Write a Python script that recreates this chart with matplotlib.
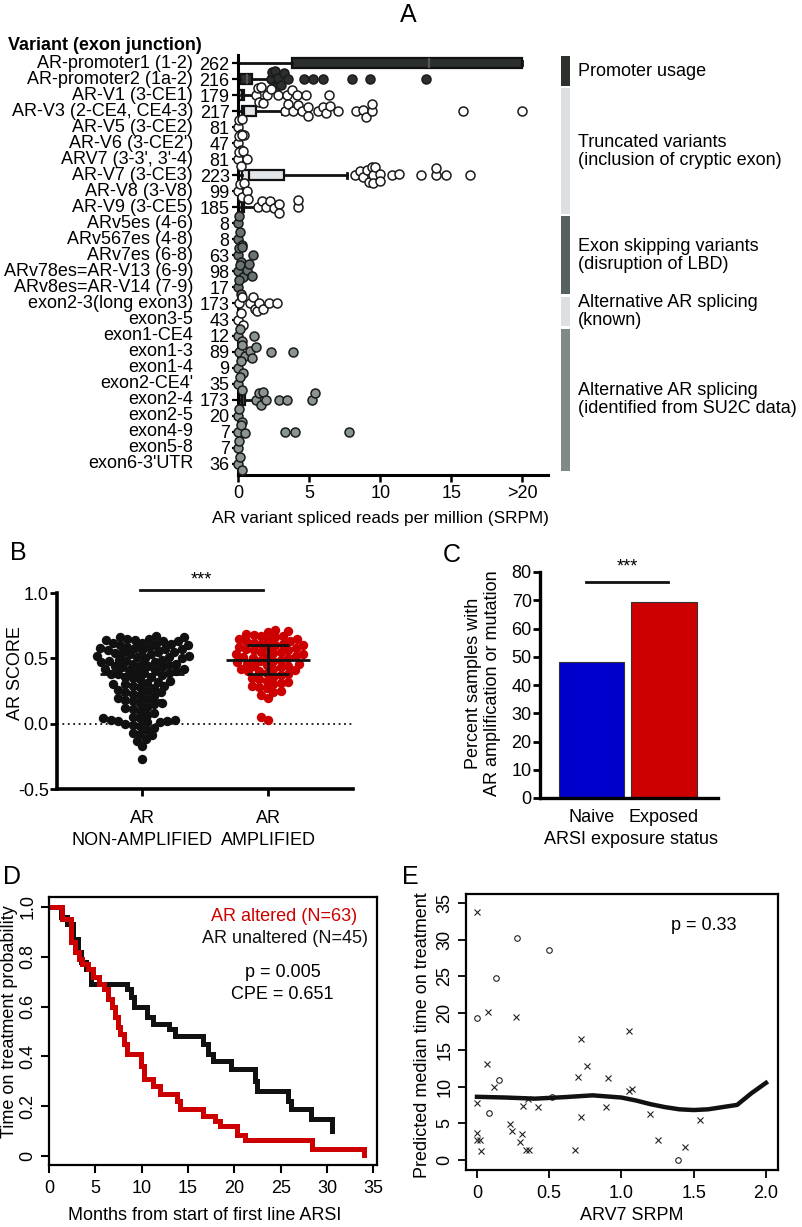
import numpy as np
import matplotlib
matplotlib.use('Agg')
import matplotlib.pyplot as plt
from matplotlib.transforms import blended_transform_factory as blend

plt.rcParams['font.family'] = ['Liberation Sans', 'DejaVu Sans']
plt.rcParams['font.size'] = 13

# ---------------- data: panel A ----------------
variants = ["AR-promoter1 (1-2)", "AR-promoter2 (1a-2)", "AR-V1 (3-CE1)", "AR-V3 (2-CE4, CE4-3)",
            "AR-V5 (3-CE2)", "AR-V6 (3-CE2')", "ARV7 (3-3', 3'-4)", "AR-V7 (3-CE3)",
            "AR-V8 (3-V8)", "AR-V9 (3-CE5)", "ARv5es (4-6)", "ARv567es (4-8)", "ARv7es (6-8)",
            "ARv78es=AR-V13 (6-9)", "ARv8es=AR-V14 (7-9)", "exon2-3(long exon3)", "exon3-5",
            "exon1-CE4", "exon1-3", "exon1-4", "exon2-CE4'", "exon2-4", "exon2-5", "exon4-9",
            "exon5-8", "exon6-3'UTR"]
counts = [262, 216, 179, 217, 81, 47, 81, 223, 99, 185, 8, 8, 63, 98, 17, 173, 43, 12, 89, 9,
          35, 173, 20, 7, 7, 36]
row_group = [0, 0, 1, 1, 1, 1, 1, 1, 1, 1, 2, 2, 2, 2, 2, 3, 3, 4, 4, 4, 4, 4, 4, 4, 4, 4]

srpm_points = [
    [],
    [2.3, 2.4, 2.5, 2.6, 2.7, 2.8, 3.0, 3.2, 3.5, 4.65, 5.3, 6.0, 8.05, 9.25, 13.2],
    [1.3, 1.4, 1.5, 1.6, 1.75, 2.05, 2.3, 2.8, 3.45, 3.8, 4.15, 4.8, 6.4],
    [3.3, 3.5, 3.9, 4.2, 4.5, 4.9, 4.9, 5.6, 6.0, 6.2, 6.5, 7.0, 8.3, 8.8, 9.0, 9.4, 9.4, 15.8, 20.0],
    [0.0, 0.1, 0.2, 0.3, 0.45],
    [0.0, 0.1, 0.2, 0.3],
    [0.0, 0.1, 0.2, 0.35, 0.6],
    [8.2, 8.6, 8.8, 9.1, 9.2, 9.4, 9.5, 9.5, 9.6, 10.0, 10.0, 10.8, 11.3, 12.9, 13.9, 13.9, 14.6, 16.3],
    [0.0, 0.15, 0.3, 0.45, 0.6, 0.7],
    [1.4, 1.7, 2.0, 2.25, 2.5, 2.9, 2.9, 4.2, 4.2],
    [0.0, 0.05],
    [0.0, 0.15, 0.3],
    [0.0, 0.1, 0.2, 0.3, 1.05],
    [0.0, 0.15, 0.35, 0.6, 0.8, 0.95],
    [0.0, 0.1, 0.2],
    [0.1, 0.3, 0.85, 1.05, 1.2, 1.35, 1.5, 1.75, 2.2, 2.75],
    [0.0, 0.2, 0.35],
    [0.0, 0.15, 0.3, 1.1],
    [0.1, 0.3, 0.5, 0.85, 1.0, 1.3, 2.3, 3.9],
    [0.0, 0.2, 0.35],
    [0.0, 0.15, 0.25],
    [1.3, 1.45, 1.6, 1.75, 2.0, 2.9, 3.45, 5.2, 5.4],
    [0.0, 0.1, 0.25],
    [0.0, 0.2, 0.5, 3.3, 4.0, 7.8],
    [0.0, 0.05],
    [0.0, 0.15, 0.3],
]
box_rows = [0, 1, 2, 3, 7, 9, 21]
box_lo = [0, 0, 0, 0, 0, 0, 0]
box_q1 = [3.8, 0.15, 0.1, 0.3, 0.3, 0.1, 0.07]
box_med = [13.4, 0.6, 0.25, 0.45, 0.8, 0.25, 0.3]
box_q3 = [20.0, 1.0, 0.4, 1.3, 3.2, 0.45, 0.5]
box_hi = [20.0, 2.3, 1.1, 3.1, 7.7, 1.3, 1.2]

group_labels = ["Promoter usage", "Truncated variants\n(inclusion of cryptic exon)",
                "Exon skipping variants\n(disruption of LBD)", "Alternative AR splicing\n(known)",
                "Alternative AR splicing\n(identified from SU2C data)"]
group_first = [0, 2, 10, 15, 17]
group_last = [1, 9, 14, 16, 25]
group_bar_colors = ['#2d312e', '#dde0e3', '#566060', '#dde0e3', '#7f8a88']
group_point_colors = ['#2b2f2d', '#ffffff', '#6a7373', '#ffffff', '#8a9492']
group_box_colors = ['#2b2f2d', '#e3e6e8', '#6a7373', '#ffffff', '#4a4f4e']

# ---------------- data: panel B ----------------
ar_nonamp = [0.67, 0.66, 0.66, 0.65, 0.65, 0.64, 0.64, 0.63, 0.63, 0.62, 0.62, 0.61, 0.61,
             0.60, 0.60, 0.59, 0.59, 0.58, 0.58, 0.57, 0.57, 0.56, 0.56, 0.55, 0.55, 0.54,
             0.54, 0.53, 0.53, 0.52, 0.52, 0.51, 0.51, 0.50, 0.50, 0.49, 0.49, 0.48, 0.48,
             0.47, 0.47, 0.46, 0.46, 0.45, 0.45, 0.44, 0.44, 0.43, 0.43, 0.42, 0.42, 0.41,
             0.41, 0.40, 0.40, 0.39, 0.39, 0.38, 0.38, 0.37, 0.36, 0.36, 0.35, 0.34, 0.33,
             0.32, 0.31, 0.30, 0.30, 0.29, 0.29, 0.28, 0.27, 0.26, 0.25, 0.24, 0.24, 0.23,
             0.22, 0.21, 0.20, 0.19, 0.18, 0.17, 0.16, 0.16, 0.15, 0.13, 0.12, 0.11, 0.10,
             0.08, 0.07, 0.05, 0.04, 0.04, 0.03, 0.03, 0.02, 0.02, 0.01, 0.01, 0.00, -0.01,
             -0.02, -0.03, -0.05, -0.07, -0.08, -0.09, -0.12, -0.13, -0.17, -0.27]
ar_amp = [0.72, 0.71, 0.70, 0.69, 0.68, 0.67, 0.67, 0.66, 0.65, 0.65, 0.64, 0.63, 0.63, 0.62,
          0.61, 0.61, 0.60, 0.60, 0.59, 0.58, 0.58, 0.57, 0.56, 0.56, 0.55, 0.55, 0.54, 0.53,
          0.53, 0.52, 0.51, 0.51, 0.50, 0.50, 0.49, 0.48, 0.48, 0.47, 0.46, 0.46, 0.45, 0.44,
          0.44, 0.43, 0.42, 0.42, 0.41, 0.40, 0.40, 0.39, 0.38, 0.37, 0.36, 0.35, 0.34, 0.33,
          0.32, 0.31, 0.30, 0.29, 0.28, 0.27, 0.25, 0.24, 0.22, 0.20, 0.05, 0.03]
b_means = [0.38, 0.49]
b_sds = [0.20, 0.11]
b_categories = ["AR\nNON-AMPLIFIED", "AR\nAMPLIFIED"]

# ---------------- data: panel C ----------------
c_categories = ["Naive", "Exposed"]
c_percent = [48.1, 69.3]

# ---------------- data: panel D ----------------
unalt_t = [0, 1.3, 1.9, 2.6, 3.1, 3.5, 4.0, 4.5, 8.4, 8.8, 9.2, 10.6, 11.2, 13.0, 13.6, 16.6,
           17.2, 17.7, 19.6, 22.2, 22.5, 25.8, 26.1, 28.3, 30.5]
unalt_s = [1.0, 0.96, 0.93, 0.87, 0.82, 0.78, 0.75, 0.69, 0.67, 0.64, 0.60, 0.56, 0.53, 0.51,
           0.48, 0.45, 0.41, 0.38, 0.35, 0.30, 0.26, 0.22, 0.19, 0.15, 0.10]
alt_t = [0, 1.4, 2.4, 2.8, 3.2, 3.6, 4.2, 4.7, 5.4, 5.9, 6.4, 6.8, 7.1, 7.4, 7.7, 8.1, 8.4,
         9.9, 10.2, 11.2, 12.0, 13.8, 14.1, 16.6, 17.9, 18.5, 20.3, 21.2, 28.4, 34.0]
alt_s = [1.0, 0.95, 0.86, 0.82, 0.79, 0.77, 0.75, 0.72, 0.69, 0.67, 0.63, 0.60, 0.56, 0.52,
         0.49, 0.45, 0.41, 0.36, 0.31, 0.28, 0.25, 0.22, 0.19, 0.16, 0.14, 0.12, 0.085, 0.065,
         0.03, 0.005]

# ---------------- data: panel E ----------------
e_cross_x = [0.0, 0.077, 0.27, 1.05, 0.72, 0.07, 0.76, 0.70, 0.91, 0.12, 1.07, 1.05, 0.0, 0.32,
             0.42, 0.89, 0.35, 0.72, 1.20, 1.54, 0.23, 0.24, 0.0, 0.31, 0.0, 0.02, 0.30, 1.25,
             1.44, 0.03, 0.34, 0.36, 0.68]
e_cross_y = [33.8, 20.2, 19.5, 17.6, 16.5, 13.1, 12.8, 11.3, 11.2, 9.9, 9.7, 9.4, 7.8, 7.4, 7.2,
             7.2, 8.3, 5.9, 6.2, 5.4, 4.9, 3.9, 3.7, 3.6, 2.7, 2.7, 2.5, 2.7, 1.8, 1.2, 1.4, 1.3, 1.4]
e_circ_x = [0.28, 0.5, 0.13, 0.0, 0.15, 0.08, 0.52, 1.39]
e_circ_y = [30.2, 28.6, 24.8, 19.3, 10.9, 6.4, 8.6, 0.0]
e_fit_x = [0, 0.2, 0.4, 0.6, 0.8, 1.0, 1.1, 1.2, 1.3, 1.4, 1.5, 1.6, 1.7, 1.8, 1.9, 2.0]
e_fit_y = [8.6, 8.5, 8.35, 8.55, 8.8, 8.5, 8.1, 7.6, 7.2, 6.9, 6.8, 6.9, 7.2, 7.5, 9.1, 10.5]

W, H = 802, 1227
fig = plt.figure(figsize=(W / 100, H / 100), dpi=100)


def axes_px(l, t, r, b):
    return fig.add_axes([l / W, 1 - b / H, (r - l) / W, (b - t) / H])


def ftext(x, y, s, **kw):
    fig.text(x / W, 1 - y / H, s, **kw)


def swarm(vals_px, d):
    # beeswarm offsets (pixels) so that markers of diameter d don't overlap
    vals_px = np.asarray(vals_px, float)
    offs = np.zeros(len(vals_px))
    pv, po = [], []
    for i in np.argsort(vals_px, kind='stable'):
        v = vals_px[i]
        cands = [0.0]
        blocks = []
        for a, o in zip(pv, po):
            dv = abs(v - a)
            if dv < d:
                w = np.sqrt(d * d - dv * dv)
                blocks.append((o - w, o + w))
                cands += [o - w, o + w]
        cands.sort(key=abs)
        for c in cands:
            if all(not (lo + 1e-6 < c < hi - 1e-6) for lo, hi in blocks):
                offs[i] = c
                break
        pv.append(v)
        po.append(offs[i])
    return offs


# ======================= A =======================
axA = axes_px(238, 55, 548, 475)
axA.set_xlim(0, 21.8)
axA.set_ylim(25.7, -0.5)
rows = np.arange(len(variants))
sx = axA.transData.transform((1, 0))[0] - axA.transData.transform((0, 0))[0]
sy = abs(axA.transData.transform((0, 1))[1] - axA.transData.transform((0, 0))[1])

stats = [dict(whislo=a, q1=b, med=c, q3=d, whishi=e, fliers=[])
         for a, b, c, d, e in zip(box_lo, box_q1, box_med, box_q3, box_hi)]
bp = axA.bxp(stats, positions=box_rows, widths=0.62, orientation='horizontal',
             patch_artist=True, showcaps=True, capwidths=0.3, manage_ticks=False,
             boxprops=dict(lw=1.6, edgecolor='#111111'),
             whiskerprops=dict(lw=2.0, color='#111111'),
             capprops=dict(lw=2.0, color='#111111'),
             medianprops=dict(lw=1.6, color='#111111'))
for patch, r in zip(bp['boxes'], box_rows):
    patch.set_facecolor(group_box_colors[row_group[r]])
    patch.set_zorder(2)
for med, r in zip(bp['medians'], box_rows):
    if row_group[r] == 0:
        med.set_color('#555555')

for r in rows:
    vals = np.minimum(np.array(srpm_points[r], float), 20)
    if len(vals) == 0:
        continue
    offs = swarm(vals * sx, 7.2) / sy
    offs = np.clip(offs, -0.5, 0.5)
    axA.scatter(vals, r + offs, s=42, c=group_point_colors[row_group[r]],
                edgecolors='#1a1a1a', linewidths=1.1, zorder=4, clip_on=False)

axA.set_yticks(rows)
axA.set_yticklabels([str(c) for c in counts])
axA.tick_params(axis='y', length=4, width=1.6, pad=2, labelsize=13)
axA.set_xticks([0, 5, 10, 15, 20])
axA.set_xticklabels(['0', '5', '10', '15', '>20'])
axA.tick_params(axis='x', length=5, width=1.8, pad=2, labelsize=13)
for s in ['top', 'right']:
    axA.spines[s].set_visible(False)
for s in ['left', 'bottom']:
    axA.spines[s].set_linewidth(2.2)
trA = blend(axA.transAxes, axA.transData)
for r, name in zip(rows, variants):
    axA.text(-0.145, r, name, transform=trA, ha='right', va='center', fontsize=13)

axG = axes_px(561, 55, 570, 475)
axG.set_ylim(25.7, -0.5)
axG.set_xlim(0, 1)
axG.axis('off')
trG = blend(axG.transAxes, axG.transData)
for a, b, col, lab in zip(group_first, group_last, group_bar_colors, group_labels):
    axG.bar(0.5, b - a + 1 - 0.14, bottom=a - 0.5 + 0.07, width=1.0, color=col)
    axG.text(1.9, (a + b) / 2, lab, transform=trG, ha='left', va='center', fontsize=13,
             linespacing=1.1)

ftext(8, 45, "Variant (exon junction)", ha='left', va='center', fontsize=13, fontweight='bold')
ftext(380, 519, "AR variant spliced reads per million (SRPM)", ha='center', va='center', fontsize=12.4)
ftext(408, 15, "A", ha='center', va='center', fontsize=18)

# ======================= B =======================
axB = axes_px(57, 593, 353, 789)
axB.set_xlim(-0.675, 1.675)
axB.set_ylim(-0.5, 1.0)
bsx = axB.transData.transform((1, 0))[0] - axB.transData.transform((0, 0))[0]
bsy = axB.transData.transform((0, 1))[1] - axB.transData.transform((0, 0))[1]
for xc, vals, col in zip([0, 1], [ar_nonamp, ar_amp], ['#111111', '#cc0000']):
    vals = np.array(vals)
    offs = swarm(vals * bsy, 7.6) / bsx
    axB.scatter(xc + offs, vals, s=46, c=col, linewidths=0, zorder=3, clip_on=False)
for xc, m, sd in zip([0, 1], b_means, b_sds):
    axB.hlines(m, xc - 0.33, xc + 0.33, color='#111111', lw=2, zorder=4)
    axB.vlines(xc, m - sd, m + sd, color='#111111', lw=2, zorder=4)
    axB.hlines([m - sd, m + sd], xc - 0.17, xc + 0.17, color='#111111', lw=2, zorder=4)
axB.axhline(0, ls=(0, (1, 2)), color='#111111', lw=1.3, zorder=1)
axB.plot([-0.02, 0.96], [1.02, 1.02], color='#111111', lw=2, clip_on=False)
axB.text(0.47, 1.1, "***", ha='center', va='center', fontsize=13)
axB.set_yticks([-0.5, 0.0, 0.5, 1.0])
axB.set_yticklabels(['-0.5', '0.0', '0.5', '1.0'])
axB.set_xticks([0, 1])
axB.set_xticklabels(b_categories, linespacing=1.4)
axB.tick_params(axis='y', length=5, width=2, pad=1, labelsize=13)
axB.tick_params(axis='x', length=5, width=2, pad=10, labelsize=13)
for s in ['top', 'right']:
    axB.spines[s].set_visible(False)
for s in ['left', 'bottom']:
    axB.spines[s].set_linewidth(2.6)
ftext(16, 673, "AR SCORE", rotation=90, ha='center', va='center', fontsize=13)
ftext(18, 553, "B", ha='center', va='center', fontsize=18)

# ======================= C =======================
axC = axes_px(540, 572, 718, 798)
axC.set_xlim(-0.71, 1.745)
axC.set_ylim(0, 80)
axC.bar([0, 1], c_percent, width=0.9, color=['#0000cc', '#cc0000'], edgecolor='#333333', lw=0.8)
axC.plot([-0.076, 1.055], [76.3, 76.3], color='#111111', lw=2, clip_on=False)
axC.text(0.49, 81.8, "***", ha='center', va='center', fontsize=13, clip_on=False)
axC.set_yticks(range(0, 81, 10))
axC.set_xticks([0, 1])
axC.set_xticklabels(c_categories)
axC.tick_params(axis='y', length=5, width=2, pad=1, labelsize=13)
axC.tick_params(axis='x', length=0, pad=8, labelsize=13)
for s in ['top', 'right']:
    axC.spines[s].set_visible(False)
for s in ['left', 'bottom']:
    axC.spines[s].set_linewidth(2.4)
ftext(483, 683, "Percent samples with\nAR amplification or mutation", rotation=90,
      ha='center', va='center', fontsize=13, linespacing=1.1)
ftext(631, 839, "ARSI exposure status", ha='center', va='center', fontsize=13)
ftext(452, 555, "C", ha='center', va='center', fontsize=18)

# ======================= D =======================
axD = axes_px(49, 897, 377, 1165)
axD.set_xlim(0, 35.4)
axD.set_ylim(-0.036, 1.04)
axD.step(unalt_t, unalt_s, where='post', color='#111111', lw=3.6, solid_joinstyle='miter')
axD.step(alt_t, alt_s, where='post', color='#cc0000', lw=3.6, solid_joinstyle='miter')
axD.text(33.3, 0.96, "AR altered (N=63)", color='#cc0000', ha='right', va='center', fontsize=13)
axD.text(34.4, 0.875, "AR unaltered (N=45)", color='#111111', ha='right', va='center', fontsize=13)
axD.text(25.2, 0.735, "p = 0.005", ha='center', va='center', fontsize=13)
axD.text(25.2, 0.647, "CPE = 0.651", ha='center', va='center', fontsize=13)
axD.set_xticks(range(0, 36, 5))
axD.set_yticks([0, 0.2, 0.4, 0.6, 0.8, 1.0])
axD.set_yticklabels(['0', '0.2', '0.4', '0.6', '0.8', '1.0'], rotation=90, va='center')
axD.tick_params(axis='both', length=6, width=1.5, labelsize=13)
axD.tick_params(axis='x', pad=5)
axD.tick_params(axis='y', pad=3)
for s in axD.spines.values():
    s.set_linewidth(1.6)
ftext(10, 1022, "Time on treatment probability", rotation=90, ha='center', va='center', fontsize=13)
ftext(205, 1215, "Months from start of first line ARSI", ha='center', va='center', fontsize=13)
ftext(12, 877, "D", ha='center', va='center', fontsize=18)

# ======================= E =======================
axE = axes_px(466, 894, 778, 1170)
axE.set_xlim(-0.076, 2.083)
axE.set_ylim(-1.36, 36.2)
axE.plot(e_cross_x, e_cross_y, 'x', color='#222222', ms=4, mew=0.8)
axE.plot(e_circ_x, e_circ_y, 'o', mfc='none', mec='#222222', ms=4, mew=0.8)
axE.plot(e_fit_x, e_fit_y, color='#111111', lw=3.2)
axE.text(1.57, 31.9, "p = 0.33", ha='center', va='center', fontsize=13)
axE.set_xticks([0, 0.5, 1.0, 1.5, 2.0])
axE.set_xticklabels(['0', '0.5', '1.0', '1.5', '2.0'])
axE.set_yticks(range(0, 36, 5))
axE.set_yticklabels([str(v) for v in range(0, 36, 5)], rotation=90, va='center')
axE.tick_params(axis='both', length=6, width=1.3, labelsize=13)
axE.tick_params(axis='x', pad=5)
axE.tick_params(axis='y', pad=3)
for s in axE.spines.values():
    s.set_linewidth(1.6)
ftext(423, 1035, "Predicted median time on treatment", rotation=90, ha='center', va='center',
      fontsize=13)
ftext(632, 1215, "ARV7 SRPM", ha='center', va='center', fontsize=13)
ftext(410, 877, "E", ha='center', va='center', fontsize=18)

fig.savefig('out.png', dpi=100)
